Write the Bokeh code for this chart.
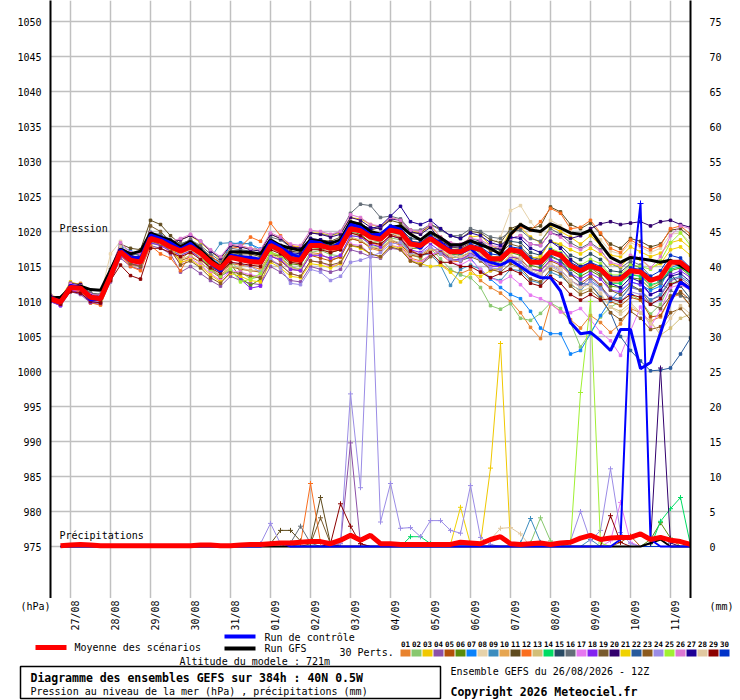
import math
from bokeh.plotting import figure
from bokeh.models import Range1d, LinearAxis, FixedTicker, Label
from bokeh.layouts import column
from bokeh.core.properties import value
from bokeh.embed import file_html
from bokeh.resources import INLINE

# ---------------- data ----------------
HOURS = list(range(0, 385, 6))          # forecast hours from 26/08 12Z
DAY_HOURS = [12 + 24 * k for k in range(16)]   # 00Z of each day
DAY_LABELS = ["27/08", "28/08", "29/08", "30/08", "31/08", "01/09", "02/09", "03/09",
              "04/09", "05/09", "06/09", "07/09", "08/09", "09/09", "10/09", "11/09"]
P_TICKS = list(range(975, 1051, 5))
R_TICKS = list(range(0, 76, 5))

MEAN_P = [1010.4, 1009.9, 1012.0, 1011.9, 1010.6, 1010.4, 1013.6, 1017.1, 1015.9, 1015.6, 1019.0, 1018.6, 1017.8,
          1017.2, 1017.8, 1016.9, 1015.6, 1014.7, 1016.3, 1016.0, 1015.7, 1015.6, 1018.0, 1017.3, 1016.1, 1015.9,
          1018.0, 1018.0, 1017.6, 1017.8, 1020.4, 1020.1, 1019.2, 1018.9, 1020.2, 1019.9, 1018.2, 1018.0, 1019.0,
          1018.0, 1017.1, 1017.1, 1017.8, 1017.4, 1016.1, 1016.1, 1017.4, 1017.1, 1015.6, 1015.6, 1017.1, 1016.6,
          1015.1, 1014.4, 1015.1, 1014.6, 1013.2, 1013.2, 1014.4, 1014.2, 1013.0, 1013.5, 1015.6, 1015.6, 1014.4]

CTRL_P = [1010.6, 1010.0, 1012.3, 1012.0, 1010.2, 1010.3, 1013.9, 1017.4, 1016.3, 1016.2, 1019.5, 1019.0, 1018.4,
          1017.5, 1018.3, 1017.0, 1015.4, 1014.3, 1016.6, 1016.4, 1016.3, 1016.0, 1018.6, 1017.8, 1016.8, 1016.3,
          1018.6, 1018.4, 1017.5, 1018.5, 1021.0, 1020.6, 1019.5, 1019.6, 1020.8, 1020.3, 1018.3, 1017.6, 1019.2,
          1018.4, 1017.3, 1016.9, 1017.6, 1016.2, 1015.6, 1015.2, 1015.9, 1015.0, 1014.0, 1013.4, 1013.4, 1011.5,
          1007.0, 1005.4, 1005.6, 1004.4, 1003.0, 1006.0, 1006.0, 1000.4, 1001.3, 1005.5, 1010.0, 1012.8, 1011.8]

GFS_P = [1010.5, 1010.6, 1012.0, 1012.2, 1011.7, 1011.6, 1014.5, 1017.5, 1016.8, 1017.2, 1019.8, 1019.2, 1018.8,
         1017.8, 1018.6, 1017.4, 1016.0, 1014.9, 1017.1, 1017.1, 1017.0, 1016.8, 1018.8, 1018.0, 1017.6, 1017.3,
         1018.8, 1018.6, 1018.3, 1018.8, 1021.4, 1021.0, 1020.0, 1019.6, 1020.6, 1020.8, 1019.6, 1018.8, 1019.9,
         1019.1, 1018.1, 1018.1, 1018.7, 1018.1, 1017.6, 1016.7, 1019.6, 1021.0, 1020.2, 1020.0, 1021.1, 1020.5,
         1019.8, 1019.6, 1020.2, 1018.2, 1016.3, 1015.6, 1016.3, 1016.1, 1015.9, 1015.6, 1015.9, 1015.1, 1014.2]

P01 = [1010.8, 1010.2, 1012.4, 1012.6, 1010.9, 1010.0, 1013.2, 1016.6, 1015.2, 1015.0, 1018.4, 1018.2, 1017.0,
       1016.0, 1017.2, 1016.4, 1014.8, 1013.6, 1015.4, 1015.2, 1015.0, 1014.6, 1017.0, 1016.2, 1015.0, 1014.5,
       1017.0, 1016.8, 1016.0, 1016.3, 1019.0, 1018.7, 1017.6, 1017.2, 1018.6, 1018.0, 1016.2, 1015.8, 1016.6,
       1015.4, 1014.4, 1014.0, 1014.6, 1013.0, 1012.0, 1011.2, 1010.0, 1008.4, 1006.3, 1004.7, 1009.7, 1008.6,
       1007.4, 1006.2, 1008.0, 1007.0, 1005.6, 1006.8, 1009.0, 1008.4, 1007.2, 1007.8, 1010.6, 1011.0, 1009.4]
P02 = [1010.1, 1009.6, 1011.8, 1011.5, 1010.0, 1009.8, 1013.0, 1016.5, 1015.5, 1014.9, 1018.3, 1018.0, 1017.4,
       1016.6, 1017.3, 1016.2, 1015.1, 1014.2, 1015.8, 1014.3, 1013.2, 1013.6, 1017.1, 1016.5, 1015.0, 1014.6,
       1017.0, 1017.3, 1016.7, 1016.5, 1019.4, 1019.3, 1018.0, 1017.8, 1019.1, 1018.8, 1016.7, 1016.2, 1017.6,
       1016.1, 1014.6, 1013.8, 1013.4, 1012.0, 1009.4, 1008.9, 1009.7, 1007.6, 1007.3, 1008.3, 1009.8, 1009.0,
       1007.0, 1003.5, 1005.6, 1007.8, 1009.2, 1010.0, 1011.0, 1010.2, 1008.2, 1009.6, 1012.6, 1013.0, 1011.8]
P03 = [1010.9, 1010.5, 1012.8, 1012.4, 1011.0, 1010.9, 1014.2, 1017.6, 1016.7, 1016.0, 1019.4, 1019.2, 1018.6,
       1018.8, 1019.4, 1018.4, 1017.2, 1016.0, 1018.0, 1017.8, 1017.6, 1017.4, 1019.6, 1019.0, 1018.0, 1017.8,
       1019.8, 1019.8, 1019.4, 1019.8, 1022.0, 1021.8, 1021.0, 1020.6, 1022.0, 1021.6, 1020.2, 1019.8, 1020.8,
       1019.2, 1018.3, 1018.0, 1019.2, 1019.4, 1018.0, 1017.4, 1020.2, 1020.6, 1019.2, 1018.4, 1020.7, 1020.0,
       1019.2, 1018.2, 1019.4, 1018.0, 1016.6, 1016.4, 1017.8, 1017.1, 1016.4, 1016.9, 1018.4, 1018.8, 1017.6]
P04 = [1010.0, 1009.4, 1011.4, 1011.0, 1009.8, 1009.6, 1012.8, 1016.2, 1015.0, 1014.6, 1018.0, 1017.6, 1016.8,
       1014.2, 1015.0, 1014.0, 1013.0, 1012.2, 1013.6, 1013.0, 1012.6, 1012.4, 1015.0, 1014.2, 1013.0, 1012.8,
       1015.0, 1014.6, 1014.2, 1014.6, 1017.4, 1017.0, 1016.4, 1016.2, 1017.6, 1017.4, 1015.8, 1015.4, 1016.6,
       1017.2, 1016.0, 1015.8, 1016.8, 1016.4, 1014.4, 1014.6, 1016.0, 1015.6, 1014.2, 1013.8, 1015.4, 1014.6,
       1013.0, 1012.2, 1013.4, 1012.2, 1010.6, 1010.4, 1012.0, 1011.6, 1010.2, 1010.8, 1013.0, 1013.4, 1012.2]
P05 = [1010.4, 1010.0, 1011.6, 1011.4, 1010.4, 1010.2, 1013.4, 1016.8, 1015.4, 1015.2, 1018.6, 1018.4, 1017.4,
       1015.8, 1016.4, 1015.6, 1014.4, 1013.4, 1015.0, 1014.6, 1014.4, 1014.2, 1016.6, 1015.8, 1014.6, 1014.4,
       1016.6, 1016.2, 1015.8, 1016.4, 1019.0, 1018.6, 1017.8, 1017.4, 1018.8, 1018.2, 1016.6, 1016.4, 1017.4,
       1017.4, 1016.2, 1016.4, 1017.0, 1016.6, 1015.2, 1015.0, 1016.4, 1016.0, 1014.6, 1014.4, 1015.8, 1015.2,
       1013.8, 1012.6, 1013.6, 1012.4, 1010.0, 1009.4, 1010.6, 1010.2, 1007.8, 1008.0, 1010.6, 1011.4, 1010.2]
P06 = [1010.2, 1009.8, 1011.8, 1011.6, 1010.3, 1010.1, 1013.6, 1017.0, 1015.6, 1015.4, 1018.8, 1018.3, 1017.6,
       1016.9, 1017.5, 1016.4, 1014.9, 1014.3, 1015.4, 1013.4, 1012.3, 1013.2, 1016.6, 1016.6, 1015.4, 1015.2,
       1017.6, 1017.6, 1017.0, 1017.4, 1020.0, 1019.6, 1018.4, 1018.6, 1019.8, 1019.6, 1017.6, 1017.6, 1018.8,
       1017.8, 1016.8, 1016.6, 1017.6, 1017.0, 1015.8, 1015.6, 1017.0, 1016.6, 1015.2, 1014.8, 1016.4, 1015.8,
       1014.6, 1013.6, 1014.4, 1013.6, 1012.2, 1012.0, 1013.4, 1013.2, 1011.8, 1012.6, 1014.4, 1014.8, 1013.6]
P07 = [1010.7, 1010.2, 1012.3, 1012.0, 1010.8, 1010.6, 1014.0, 1018.0, 1017.2, 1016.4, 1019.6, 1019.5, 1018.4,
       1017.8, 1018.6, 1017.6, 1016.4, 1015.2, 1018.2, 1018.4, 1018.2, 1017.5, 1018.2, 1017.6, 1016.4, 1016.3,
       1018.4, 1018.4, 1018.0, 1018.3, 1020.8, 1020.4, 1019.6, 1019.2, 1020.6, 1020.2, 1018.4, 1018.2, 1019.4,
       1018.2, 1016.8, 1016.0, 1016.2, 1014.4, 1013.2, 1012.0, 1011.0, 1010.4, 1008.6, 1006.2, 1005.4, 1005.4,
       1002.5, 1003.0, 1005.4, 1008.0, 1010.2, 1011.6, 1012.8, 1012.4, 1011.6, 1012.2, 1014.8, 1015.4, 1014.6]
P08 = [1010.6, 1010.4, 1012.6, 1012.2, 1010.2, 1010.8, 1016.8, 1018.6, 1016.4, 1016.2, 1019.2, 1018.8, 1018.2,
       1017.4, 1018.0, 1017.0, 1015.6, 1014.8, 1016.6, 1016.6, 1016.6, 1016.2, 1018.4, 1017.6, 1016.4, 1016.2,
       1018.4, 1018.4, 1018.0, 1018.4, 1020.8, 1020.4, 1019.4, 1019.2, 1020.4, 1020.4, 1018.6, 1018.4, 1019.4,
       1018.6, 1017.6, 1017.6, 1018.4, 1018.6, 1018.0, 1019.2, 1023.0, 1023.7, 1021.4, 1019.6, 1021.6, 1020.8,
       1019.8, 1019.4, 1020.0, 1018.8, 1017.2, 1016.8, 1018.4, 1017.8, 1017.0, 1017.6, 1019.6, 1019.8, 1018.4]
P09 = [1010.6, 1010.0, 1011.9, 1011.7, 1010.5, 1010.6, 1014.0, 1017.8, 1016.6, 1016.8, 1019.9, 1019.4, 1018.3,
       1017.6, 1018.6, 1017.4, 1016.2, 1018.3, 1018.4, 1018.2, 1018.3, 1017.0, 1018.6, 1017.8, 1016.9, 1016.6,
       1018.4, 1018.2, 1017.8, 1018.2, 1020.4, 1020.2, 1019.4, 1018.8, 1019.8, 1019.0, 1016.8, 1016.6, 1016.8,
       1015.2, 1012.3, 1014.6, 1015.2, 1014.6, 1013.4, 1013.0, 1014.6, 1014.4, 1013.0, 1012.6, 1014.2, 1013.6,
       1012.4, 1011.6, 1013.0, 1012.0, 1010.4, 1010.4, 1012.2, 1011.6, 1010.2, 1011.0, 1013.2, 1013.6, 1012.6]
P10 = [1010.3, 1009.8, 1012.0, 1012.0, 1010.8, 1010.4, 1013.8, 1017.2, 1016.2, 1015.8, 1019.0, 1018.6, 1018.0,
       1017.4, 1018.0, 1017.0, 1015.6, 1014.8, 1016.4, 1016.0, 1015.8, 1015.8, 1018.0, 1017.4, 1016.4, 1016.0,
       1018.2, 1018.0, 1017.6, 1018.0, 1020.6, 1020.2, 1019.2, 1019.0, 1020.4, 1020.0, 1018.4, 1018.0, 1019.0,
       1018.0, 1017.0, 1016.8, 1017.6, 1017.2, 1016.0, 1016.0, 1017.6, 1017.4, 1015.8, 1015.4, 1017.2, 1016.8,
       1015.6, 1014.8, 1015.6, 1014.6, 1012.8, 1012.6, 1014.0, 1013.6, 1012.2, 1012.8, 1015.0, 1015.6, 1014.8]
P11 = [1010.4, 1010.2, 1012.2, 1012.4, 1011.2, 1011.0, 1014.6, 1018.2, 1017.6, 1017.4, 1021.6, 1021.0, 1019.4,
       1018.2, 1018.8, 1017.8, 1016.4, 1015.6, 1017.0, 1016.8, 1016.8, 1016.4, 1018.6, 1018.0, 1017.2, 1017.0,
       1019.0, 1018.8, 1018.6, 1019.2, 1021.4, 1021.2, 1020.2, 1020.6, 1021.6, 1021.2, 1019.8, 1019.8, 1021.0,
       1020.4, 1019.4, 1019.0, 1020.0, 1019.8, 1018.8, 1018.4, 1020.4, 1021.0, 1020.4, 1020.8, 1023.5, 1022.8,
       1021.0, 1020.4, 1021.2, 1019.6, 1018.2, 1017.6, 1019.0, 1018.6, 1017.8, 1018.2, 1020.2, 1020.4, 1019.2]
P12 = [1010.0, 1009.5, 1011.5, 1011.4, 1009.8, 1009.5, 1013.0, 1016.6, 1015.0, 1014.4, 1018.0, 1016.8, 1016.2,
       1014.4, 1016.8, 1016.8, 1016.6, 1015.4, 1017.6, 1017.8, 1019.2, 1018.6, 1021.2, 1019.4, 1018.0, 1017.6,
       1018.6, 1018.0, 1017.2, 1017.4, 1019.8, 1019.4, 1018.4, 1018.0, 1019.6, 1019.2, 1017.4, 1016.6, 1017.6,
       1016.8, 1015.6, 1015.8, 1016.8, 1016.8, 1016.0, 1016.6, 1019.4, 1020.6, 1020.2, 1021.4, 1023.3, 1022.6,
       1020.4, 1020.6, 1021.6, 1019.8, 1017.6, 1017.0, 1018.8, 1018.0, 1017.4, 1018.0, 1020.4, 1020.8, 1019.6]
P13 = [1010.6, 1010.1, 1012.2, 1012.0, 1010.6, 1010.3, 1013.6, 1017.0, 1015.8, 1015.4, 1018.8, 1018.4, 1017.6,
       1016.0, 1016.6, 1015.6, 1014.4, 1013.6, 1015.0, 1014.8, 1014.4, 1014.4, 1016.8, 1016.0, 1014.8, 1014.6,
       1016.8, 1016.6, 1016.2, 1016.6, 1019.2, 1018.8, 1017.8, 1017.6, 1018.8, 1018.4, 1016.8, 1016.6, 1017.4,
       1017.4, 1016.4, 1016.2, 1017.0, 1016.4, 1015.2, 1015.0, 1016.2, 1015.8, 1014.2, 1013.8, 1015.0, 1014.2,
       1012.6, 1011.4, 1012.0, 1011.0, 1009.2, 1008.6, 1009.8, 1008.4, 1007.2, 1005.2, 1006.2, 1007.6, 1008.2]
P14 = [1010.2, 1009.7, 1011.8, 1011.8, 1010.5, 1010.3, 1013.4, 1016.9, 1015.7, 1015.3, 1018.6, 1018.4, 1017.6,
       1016.8, 1017.6, 1016.8, 1015.5, 1014.5, 1016.2, 1016.0, 1015.6, 1015.4, 1017.8, 1017.2, 1016.0, 1015.8,
       1017.8, 1017.8, 1017.4, 1017.6, 1020.0, 1019.8, 1019.0, 1018.6, 1019.8, 1019.6, 1018.0, 1017.8, 1018.8,
       1017.8, 1016.8, 1016.8, 1017.6, 1017.2, 1016.2, 1016.2, 1017.4, 1017.2, 1015.8, 1015.4, 1017.0, 1016.4,
       1014.8, 1014.0, 1014.8, 1014.2, 1012.6, 1012.6, 1013.8, 1013.6, 1012.4, 1012.8, 1014.6, 1015.0, 1013.8]
P15 = [1010.5, 1010.0, 1012.1, 1012.1, 1010.7, 1010.5, 1013.8, 1017.4, 1016.2, 1016.0, 1019.4, 1019.0, 1018.2,
       1017.6, 1018.2, 1017.4, 1016.0, 1015.0, 1016.8, 1016.6, 1016.2, 1016.0, 1018.4, 1017.8, 1016.6, 1016.4,
       1018.6, 1018.4, 1018.0, 1018.4, 1020.8, 1020.6, 1019.6, 1019.4, 1020.8, 1020.4, 1019.0, 1018.8, 1019.8,
       1019.0, 1018.0, 1018.0, 1019.0, 1018.6, 1017.6, 1017.4, 1018.6, 1018.4, 1017.0, 1016.6, 1018.6, 1018.0,
       1016.6, 1016.0, 1016.8, 1016.0, 1014.4, 1014.2, 1015.4, 1014.8, 1013.2, 1013.0, 1014.0, 1012.2, 1010.4]
P16 = [1010.8, 1010.4, 1012.4, 1012.3, 1011.2, 1011.0, 1014.2, 1017.8, 1016.8, 1016.6, 1019.8, 1019.6, 1018.8,
       1018.2, 1018.8, 1018.0, 1016.8, 1015.8, 1017.6, 1017.4, 1017.2, 1016.8, 1019.2, 1018.8, 1017.8, 1017.6,
       1019.8, 1019.6, 1019.4, 1020.0, 1022.6, 1023.9, 1023.7, 1022.0, 1022.2, 1021.8, 1020.2, 1020.2, 1021.0,
       1020.2, 1019.4, 1019.4, 1020.4, 1020.0, 1019.2, 1019.0, 1020.0, 1020.2, 1019.0, 1018.6, 1020.4, 1019.6,
       1018.4, 1017.6, 1018.4, 1017.4, 1015.4, 1014.8, 1015.8, 1015.2, 1013.6, 1012.6, 1011.6, 1010.8, 1010.4]
P17 = [1010.2, 1009.6, 1011.6, 1011.6, 1010.2, 1010.0, 1013.2, 1016.6, 1015.6, 1015.2, 1018.6, 1018.0, 1017.2,
       1015.4, 1016.2, 1015.2, 1014.0, 1013.0, 1014.4, 1014.2, 1013.8, 1013.6, 1016.0, 1015.2, 1014.0, 1013.6,
       1015.8, 1015.6, 1015.0, 1015.4, 1018.2, 1018.0, 1016.8, 1016.4, 1018.0, 1017.8, 1016.0, 1015.6, 1016.8,
       1017.0, 1015.6, 1015.2, 1016.0, 1014.6, 1013.4, 1012.8, 1013.6, 1012.4, 1010.9, 1010.4, 1009.7, 1008.5,
       1008.4, 1009.0, 1007.4, 1005.6, 1004.4, 1002.3, 1005.8, 1009.2, 1006.4, 1008.8, 1012.0, 1012.4, 1011.6]
P18 = [1010.0, 1009.4, 1011.6, 1011.2, 1009.9, 1009.8, 1013.2, 1016.6, 1015.4, 1015.0, 1018.4, 1018.0, 1017.2,
       1016.6, 1017.2, 1016.2, 1014.6, 1013.6, 1014.4, 1013.2, 1011.9, 1012.2, 1016.4, 1016.0, 1014.6, 1014.4,
       1016.6, 1016.6, 1016.2, 1016.6, 1019.4, 1019.2, 1018.2, 1017.8, 1019.4, 1019.0, 1017.4, 1017.0, 1018.2,
       1017.2, 1016.0, 1016.0, 1016.8, 1016.2, 1015.0, 1015.0, 1016.4, 1016.2, 1014.6, 1014.4, 1016.0, 1015.4,
       1014.0, 1013.2, 1014.0, 1013.2, 1011.6, 1011.4, 1012.8, 1012.4, 1011.0, 1011.6, 1013.8, 1014.4, 1013.4]
P19 = [1010.6, 1010.3, 1012.0, 1012.2, 1010.9, 1010.6, 1014.0, 1017.4, 1016.0, 1015.8, 1020.8, 1020.0, 1018.6,
       1017.6, 1018.2, 1017.2, 1015.8, 1014.8, 1016.4, 1016.2, 1016.0, 1015.8, 1018.2, 1017.6, 1016.4, 1016.2,
       1018.4, 1018.2, 1017.8, 1018.2, 1020.6, 1020.2, 1019.2, 1019.2, 1020.4, 1020.2, 1018.6, 1018.4, 1019.6,
       1018.8, 1017.8, 1017.6, 1018.4, 1018.2, 1017.2, 1017.0, 1018.2, 1017.8, 1016.4, 1016.0, 1017.4, 1016.8,
       1015.2, 1014.4, 1014.8, 1013.8, 1011.6, 1011.0, 1012.4, 1011.6, 1009.6, 1009.0, 1010.8, 1011.2, 1009.4]
P20 = [1010.8, 1010.3, 1012.6, 1012.4, 1011.0, 1010.8, 1014.0, 1017.6, 1016.4, 1016.4, 1019.8, 1019.2, 1018.4,
       1018.8, 1019.4, 1018.6, 1017.2, 1016.2, 1018.0, 1017.8, 1017.4, 1017.2, 1019.6, 1019.0, 1017.8, 1017.6,
       1019.8, 1019.6, 1019.2, 1019.6, 1022.0, 1021.6, 1020.6, 1020.4, 1021.8, 1021.6, 1020.0, 1019.6, 1020.6,
       1018.6, 1017.8, 1017.8, 1018.6, 1018.4, 1017.6, 1017.6, 1019.0, 1019.4, 1018.2, 1018.0, 1019.8, 1019.4,
       1019.0, 1019.4, 1020.4, 1021.1, 1021.4, 1021.0, 1021.2, 1021.4, 1020.8, 1021.4, 1021.6, 1021.0, 1020.6]
P21 = [1010.5, 1010.0, 1012.3, 1012.0, 1010.4, 1010.2, 1013.6, 1017.0, 1015.8, 1015.6, 1019.2, 1018.6, 1017.8,
       1015.6, 1016.0, 1015.0, 1013.8, 1012.8, 1014.0, 1013.6, 1013.0, 1012.8, 1015.6, 1014.8, 1013.6, 1013.4,
       1015.4, 1015.2, 1014.8, 1015.4, 1018.0, 1017.6, 1016.8, 1016.4, 1018.0, 1017.6, 1015.8, 1015.4, 1015.0,
       1015.2, 1014.2, 1012.8, 1014.0, 1013.6, 1014.4, 1014.8, 1016.8, 1017.4, 1016.2, 1016.4, 1018.6, 1018.2,
       1017.4, 1016.8, 1017.6, 1016.8, 1015.4, 1015.0, 1016.4, 1016.0, 1014.8, 1015.4, 1017.4, 1017.8, 1016.6]
P22 = [1010.3, 1009.8, 1011.9, 1011.8, 1010.6, 1010.4, 1013.6, 1017.2, 1016.0, 1015.6, 1019.0, 1018.6, 1017.8,
       1017.2, 1017.8, 1016.8, 1015.6, 1014.6, 1016.2, 1016.0, 1015.6, 1015.6, 1018.0, 1017.4, 1016.2, 1016.0,
       1018.2, 1018.0, 1017.6, 1018.0, 1020.4, 1020.2, 1019.4, 1019.0, 1020.4, 1020.0, 1018.4, 1018.2, 1019.2,
       1018.2, 1017.2, 1017.2, 1018.0, 1017.6, 1016.4, 1016.2, 1017.4, 1017.0, 1015.6, 1015.2, 1016.6, 1015.8,
       1014.0, 1012.6, 1012.4, 1010.6, 1008.4, 1005.0, 1003.0, 1001.5, 1000.1, 1000.2, 1000.5, 1002.5, 1004.8]
P23 = [1010.2, 1009.8, 1012.2, 1011.8, 1010.4, 1010.0, 1013.2, 1016.8, 1015.4, 1015.0, 1018.6, 1018.2, 1017.4,
       1015.2, 1015.8, 1014.8, 1013.4, 1012.6, 1014.2, 1014.0, 1013.6, 1013.4, 1015.8, 1015.2, 1014.0, 1013.6,
       1015.8, 1015.6, 1015.2, 1015.6, 1018.0, 1017.8, 1016.8, 1016.4, 1017.8, 1017.4, 1015.8, 1015.2, 1016.4,
       1017.0, 1016.0, 1015.8, 1016.4, 1015.8, 1014.6, 1014.2, 1015.4, 1014.8, 1013.2, 1012.8, 1014.6, 1014.0,
       1012.2, 1011.0, 1011.6, 1010.4, 1008.4, 1007.4, 1008.6, 1007.6, 1006.0, 1006.4, 1008.4, 1009.0, 1007.4]
P24 = [1010.6, 1010.0, 1012.0, 1011.8, 1010.6, 1010.4, 1013.8, 1017.2, 1016.2, 1016.0, 1019.2, 1018.8, 1018.0,
       1017.4, 1018.0, 1017.0, 1015.8, 1014.6, 1015.6, 1015.4, 1015.0, 1014.2, 1016.2, 1014.8, 1012.6, 1012.4,
       1014.6, 1014.2, 1013.0, 1013.6, 1015.6, 1015.9, 1016.4, 1017.0, 1018.2, 1018.4, 1017.0, 1016.8, 1017.8,
       1016.8, 1016.0, 1015.8, 1016.6, 1016.0, 1014.8, 1014.6, 1016.0, 1015.6, 1014.2, 1013.8, 1015.2, 1014.4,
       1013.0, 1012.0, 1012.8, 1011.8, 1010.4, 1010.0, 1011.4, 1011.0, 1009.6, 1010.2, 1012.4, 1012.8, 1011.6]
P25 = [1010.4, 1009.9, 1012.1, 1011.8, 1010.4, 1010.2, 1013.6, 1017.0, 1015.8, 1015.6, 1019.0, 1018.6, 1017.8,
       1017.0, 1017.6, 1016.4, 1014.6, 1013.6, 1014.6, 1012.8, 1013.2, 1014.0, 1017.0, 1016.6, 1015.8, 1015.6,
       1017.8, 1017.8, 1017.4, 1017.8, 1020.2, 1020.0, 1019.0, 1018.8, 1020.2, 1020.0, 1018.2, 1018.0, 1019.0,
       1018.0, 1017.2, 1017.0, 1017.8, 1017.6, 1016.4, 1016.4, 1017.6, 1017.4, 1016.0, 1015.8, 1017.6, 1017.0,
       1016.0, 1015.2, 1016.0, 1015.4, 1013.8, 1013.8, 1015.2, 1015.0, 1014.6, 1015.8, 1018.4, 1019.8, 1018.0]
P26 = [1010.9, 1010.4, 1012.5, 1012.2, 1011.0, 1010.9, 1014.4, 1018.4, 1017.0, 1016.8, 1019.8, 1019.2, 1018.6,
       1019.0, 1019.6, 1018.6, 1017.4, 1016.4, 1018.2, 1018.0, 1017.6, 1017.4, 1019.8, 1019.2, 1018.2, 1018.0,
       1020.2, 1020.0, 1019.6, 1020.0, 1022.4, 1022.0, 1021.0, 1020.8, 1022.0, 1021.6, 1020.2, 1020.0, 1021.0,
       1019.2, 1018.4, 1018.2, 1019.0, 1018.8, 1018.0, 1017.8, 1019.0, 1019.4, 1018.2, 1018.0, 1019.8, 1019.2,
       1018.0, 1017.4, 1018.2, 1017.2, 1015.6, 1015.2, 1016.6, 1016.2, 1014.8, 1016.4, 1019.4, 1020.8, 1020.4]
P27 = [1010.7, 1010.2, 1012.2, 1012.0, 1010.8, 1010.6, 1014.2, 1017.6, 1016.6, 1016.2, 1019.6, 1019.2, 1018.4,
       1017.8, 1018.4, 1017.4, 1016.0, 1014.8, 1016.4, 1016.2, 1016.2, 1016.0, 1018.6, 1018.0, 1017.0, 1016.8,
       1019.0, 1018.8, 1018.4, 1018.8, 1021.2, 1021.0, 1020.4, 1020.8, 1022.2, 1023.6, 1021.4, 1021.0, 1021.6,
       1020.4, 1019.4, 1019.0, 1019.8, 1019.4, 1018.4, 1018.0, 1019.2, 1019.0, 1017.6, 1017.0, 1018.6, 1017.6,
       1016.0, 1015.0, 1015.6, 1014.6, 1012.6, 1012.0, 1013.4, 1012.8, 1011.0, 1011.6, 1013.6, 1014.0, 1012.8]
P28 = [1010.3, 1009.8, 1012.0, 1011.7, 1010.5, 1010.3, 1014.2, 1017.8, 1016.2, 1015.8, 1018.8, 1018.4, 1017.6,
       1016.8, 1017.4, 1016.4, 1015.2, 1014.4, 1016.0, 1015.8, 1015.4, 1015.2, 1017.6, 1016.8, 1015.6, 1015.4,
       1017.6, 1017.4, 1017.2, 1017.6, 1020.0, 1019.8, 1018.8, 1018.6, 1019.8, 1019.4, 1017.8, 1017.6, 1018.6,
       1017.6, 1016.6, 1016.4, 1017.2, 1016.8, 1015.6, 1015.4, 1016.6, 1016.2, 1014.6, 1014.0, 1015.4, 1014.6,
       1013.0, 1012.0, 1012.4, 1011.2, 1009.2, 1008.2, 1009.4, 1008.4, 1006.8, 1005.8, 1007.6, 1009.4, 1008.2]
P29 = [1010.1, 1009.6, 1011.4, 1011.2, 1010.0, 1009.8, 1013.0, 1015.2, 1013.7, 1013.2, 1017.6, 1017.6, 1017.0,
       1016.4, 1017.0, 1016.0, 1014.8, 1014.0, 1015.6, 1015.4, 1015.2, 1015.0, 1017.4, 1016.8, 1015.6, 1015.4,
       1017.4, 1017.4, 1017.0, 1017.4, 1019.8, 1019.4, 1018.4, 1018.2, 1019.4, 1019.0, 1017.2, 1016.6, 1017.0,
       1015.6, 1015.6, 1015.0, 1015.0, 1014.2, 1013.4, 1014.0, 1014.6, 1014.0, 1012.6, 1012.2, 1013.6, 1012.6,
       1011.0, 1010.2, 1011.0, 1010.2, 1010.4, 1010.0, 1011.0, 1010.6, 1009.6, 1010.4, 1012.4, 1013.0, 1012.0]
P30 = [1010.4, 1009.9, 1012.0, 1012.0, 1010.7, 1010.5, 1013.6, 1017.2, 1016.0, 1015.8, 1019.2, 1018.8, 1018.0,
       1017.4, 1018.0, 1017.2, 1015.8, 1014.8, 1016.4, 1016.2, 1016.0, 1016.0, 1018.2, 1017.6, 1016.4, 1016.2,
       1018.4, 1018.2, 1017.8, 1018.2, 1020.6, 1020.4, 1019.4, 1019.2, 1020.6, 1020.2, 1018.6, 1018.4, 1019.4,
       1018.4, 1017.4, 1017.4, 1018.2, 1017.8, 1016.8, 1016.6, 1017.8, 1017.6, 1016.2, 1015.8, 1017.4, 1016.8,
       1015.6, 1014.8, 1015.6, 1015.0, 1013.6, 1013.6, 1014.8, 1014.6, 1013.6, 1014.4, 1016.6, 1016.2, 1014.8]

PERT_P = [P01, P02, P03, P04, P05, P06, P07, P08, P09, P10, P11, P12, P13, P14, P15,
          P16, P17, P18, P19, P20, P21, P22, P23, P24, P25, P26, P27, P28, P29, P30]

PERT_COLORS = ["#e8822e", "#88c86e", "#f0c800", "#8c50a8", "#b45008", "#5a8c0a", "#0a82fa", "#e6d2aa",
               "#3c8cbe", "#e6a550", "#5f4b1e", "#fa6e1e", "#d2be78", "#00dc64", "#284a64", "#646e78",
               "#e678f0", "#8222f0", "#785a2d", "#32006e", "#f0d200", "#285a9b", "#8c5a1e", "#9b8ce6",
               "#a0f032", "#dc78d2", "#1e0096", "#e1c8a0", "#8c0000", "#0032c8"]

# precipitation (mm per 6 h step, step index 1..64); members: non-zero steps only
MEAN_R = [0.1, 0.2, 0.3, 0.2, 0.1, 0.1, 0.1, 0.1, 0.1, 0.1, 0.1, 0.1, 0.1, 0.1, 0.2, 0.2, 0.1, 0.1, 0.2,
          0.3, 0.3, 0.4, 0.5, 0.5, 0.6, 0.7, 0.7, 0.4, 0.9,
          1.6, 0.9, 1.6, 0.4, 0.4, 0.3, 0.3, 0.3, 0.3, 0.3,
          0.3, 0.6, 0.5, 0.4, 1.0, 1.4, 0.4, 0.3, 0.4, 0.5,
          0.3, 0.5, 0.6, 1.2, 1.6, 1.0, 1.2, 1.3, 1.3, 1.8,
          1.0, 1.3, 0.9, 0.7, 0.3]
CTRL_R = {22: 0.5, 23: 0.6, 57: 1.0, 58: 36.0, 59: 49.0, 60: 1.0}
GFS_R = {60: 0.5, 61: 1.0}
R02 = {48: 0.5, 49: 4.1, 50: 0.8}
R03 = {43: 0.4, 44: 11.2, 45: 29.0, 46: 0.4}
R04 = {29: 0.4, 30: 14.8, 31: 0.4}
R05 = {57: 0.6, 58: 1.5}
R06 = {60: 1.0, 61: 3.4, 62: 1.2}
R09 = {47: 0.5, 48: 4.0, 49: 0.6, 54: 1.0}
R11 = {22: 0.4, 23: 2.3, 24: 2.3, 25: 0.8, 26: 0.6, 27: 7.0, 28: 0.4}
R12 = {25: 0.4, 26: 9.0, 27: 0.6}
R14 = {36: 1.4, 37: 1.4, 38: 0.4, 61: 3.6, 62: 5.4, 63: 7.0, 64: 0.2}
R16 = {24: 0.5, 25: 2.9, 26: 0.5}
R17 = {56: 0.8, 57: 6.3, 58: 0.6}
R19 = {26: 0.4, 27: 4.1, 28: 0.4}
R20 = {60: 0.4, 61: 25.5, 62: 0.5}
R21 = {40: 0.3, 41: 5.6, 42: 0.3}
R24 = {21: 0.4, 22: 3.3, 23: 0.4, 29: 0.5, 30: 21.8, 31: 8.4, 32: 42.7, 33: 3.5, 34: 9.0, 35: 2.6,
       36: 2.7, 37: 1.4, 38: 3.7, 39: 3.7, 40: 2.3, 41: 1.9, 42: 8.7, 43: 1.3, 44: 0.3,
       52: 0.8, 53: 5.0, 54: 0.8, 55: 2.3, 56: 11.1, 57: 2.0, 58: 0.4}
R25 = {52: 0.5, 53: 22.0, 54: 35.0, 55: 0.5}
R28 = {44: 1.0, 45: 2.6, 46: 2.7, 47: 1.8}
R29 = {28: 0.4, 29: 6.1, 30: 2.9, 31: 0.4, 56: 4.4, 57: 0.6}
PERT_R = {2: R02, 3: R03, 4: R04, 5: R05, 6: R06, 9: R09, 11: R11, 12: R12, 14: R14, 16: R16,
          17: R17, 19: R19, 20: R20, 21: R21, 24: R24, 25: R25, 28: R28, 29: R29}

for s in PERT_P + [MEAN_P, CTRL_P, GFS_P]:
    assert len(s) == len(HOURS), len(s)
assert len(MEAN_R) == len(HOURS) - 1

# ---------------- helpers ----------------
FONT = value("DejaVu Sans Mono")
RH = HOURS[1:]
W = 740
TOP_H = 598          # height of the diagram frame (px)
BOT_H = 102          # caption strip below it
PLOT_L, PLOT_R = 50, 50
PX_PER_H = (W - PLOT_L - PLOT_R) / 384.0


def expand(d):
    return [d.get(i, 0.0) for i in range(1, len(HOURS))]


def hx(px):
    """page x pixel -> forecast hour (caption strip shares the time scale)"""
    return (px - PLOT_L) / PX_PER_H


def yb(py):
    """page y pixel -> height above the page bottom, inside the caption strip"""
    return 700 - py


# ---------------- main figure ----------------
P_HI = 1053.0
P_LO = P_HI - TOP_H / 7.0
p = figure(width=W, height=TOP_H, x_range=Range1d(0, 384), y_range=Range1d(P_LO, P_HI),
           output_backend="svg", toolbar_location=None, x_axis_location=None,
           min_border_left=PLOT_L, min_border_right=PLOT_R, min_border_top=0, min_border_bottom=0)
p.frame_align = False
p.outline_line_color = None
p.extra_y_ranges = {"mm": Range1d(P_LO - 975, P_HI - 975)}

p.xgrid.ticker = FixedTicker(ticks=DAY_HOURS)
p.ygrid.ticker = FixedTicker(ticks=P_TICKS)
p.grid.grid_line_color = "#c0c0c0"
p.grid.grid_line_width = 1.5

ya = p.yaxis[0]
ya.ticker = FixedTicker(ticks=P_TICKS)
ya.major_tick_line_color = None
ya.minor_tick_line_color = None
ya.axis_line_width = 2
ya.axis_line_color = "black"
ya.major_label_standoff = 3
ya.major_label_text_font = "DejaVu Sans Mono"
ya.major_label_text_font_size = "10px"
ya.major_label_text_color = "black"

ra = LinearAxis(y_range_name="mm", ticker=FixedTicker(ticks=R_TICKS))
ra.major_tick_line_color = None
ra.minor_tick_line_color = None
ra.axis_line_width = 2
ra.axis_line_color = "black"
ra.major_label_standoff = 13
ra.major_label_text_font = "DejaVu Sans Mono"
ra.major_label_text_font_size = "10px"
ra.major_label_text_color = "black"
p.add_layout(ra, "right")

# perturbations
for vals, col in zip(PERT_P, PERT_COLORS):
    p.line(HOURS, vals, line_color=col, line_width=1)
    p.scatter(HOURS, vals, marker="square", size=2.5, line_color=col, fill_color=col)
for k, col in enumerate(PERT_COLORS):
    rv = expand(PERT_R.get(k + 1, {}))
    p.line(RH, rv, line_color=col, line_width=1, y_range_name="mm")
    nz = [(h, v) for h, v in zip(RH, rv) if v > 0]
    if nz:
        p.scatter([a for a, _ in nz], [b for _, b in nz], marker="cross", size=5,
                  line_color=col, y_range_name="mm")

# GFS, control, mean
p.line(HOURS, GFS_P, line_color="black", line_width=3)
p.line(RH, expand(GFS_R), line_color="black", line_width=2, y_range_name="mm")
p.line(HOURS, CTRL_P, line_color="#0000ff", line_width=3)
ctrl_r = expand(CTRL_R)
p.line(RH, ctrl_r, line_color="#0000ff", line_width=2, y_range_name="mm")
p.scatter([h for h, v in zip(RH, ctrl_r) if v > 5], [v for v in ctrl_r if v > 5],
          marker="cross", size=6, line_color="#0000ff", y_range_name="mm")
p.line(HOURS, MEAN_P, line_color="#ff0000", line_width=5)
p.line(RH, MEAN_R, line_color="#ff0000", line_width=5, y_range_name="mm")

for txt, yv in [("Pression", 1020.4), ("Précipitations", 976.6)]:
    p.add_layout(Label(x=hx(59), y=yv, text=txt, text_font="DejaVu Sans Mono", text_font_size="10px",
                       text_baseline="middle", text_align="left", text_color="black"))

# ---------------- caption strip (dates, legend, titles) ----------------
q = figure(width=W, height=BOT_H, x_range=Range1d(hx(0), hx(W)), y_range=Range1d(0, BOT_H),
           output_backend="svg", toolbar_location=None, min_border=0,
           min_border_left=0, min_border_right=0, min_border_top=0, min_border_bottom=0,
           x_axis_type=None, y_axis_type=None)
q.frame_align = False
q.grid.visible = False
q.outline_line_color = None

# date labels under the day grid lines
q.text(x=[h + 3 for h in DAY_HOURS], y=[yb(600)] * len(DAY_HOURS), text=DAY_LABELS, angle=math.pi / 2,
       text_font=FONT, text_font_size="10px", text_baseline="middle", text_align="right",
       text_color="black")
q.text(x=[hx(20), hx(709)], y=[yb(606)] * 2, text=["(hPa)", "(mm)"], text_font=FONT,
       text_font_size="10px", text_baseline="middle", text_align="left", text_color="black")

q.segment(x0=[hx(35), hx(224), hx(224)], y0=[yb(647), yb(636), yb(648)],
          x1=[hx(66), hx(255), hx(255)], y1=[yb(647), yb(636), yb(648)],
          line_color=["#ff0000", "#0000ff", "black"], line_width=[5, 4, 4])
q.text(x=[hx(74), hx(264), hx(264), hx(179), hx(339), hx(450)],
       y=[yb(647), yb(637), yb(648), yb(661), yb(652), yb(671)],
       text=["Moyenne des scénarios", "Run de contrôle", "Run GFS", "Altitude du modele : 721m",
             "30 Perts.", "Ensemble GEFS du 26/08/2026 - 12Z"],
       text_font=FONT, text_font_size="10px", text_baseline="middle", text_align="left",
       text_color="black")
cx = [405 + 11 * k for k in range(30)]
q.text(x=[hx(c) for c in cx], y=[yb(643)] * 30, text=["%02d" % (k + 1) for k in range(30)],
       text_font=FONT, text_font_size="7.5px", text_font_style="bold", text_baseline="middle",
       text_align="center", text_color="black")
q.quad(left=[hx(c - 5) for c in cx], right=[hx(c + 5) for c in cx], top=[yb(649)] * 30,
       bottom=[yb(656)] * 30, fill_color=PERT_COLORS, line_color=None)
q.quad(left=[hx(20)], right=[hx(440)], top=[yb(666)], bottom=[yb(698)], fill_alpha=0,
       line_color="black", line_width=1.5)
q.text(x=[hx(30), hx(450)], y=[yb(677), yb(691)],
       text=["Diagramme des ensembles GEFS sur 384h : 40N 0.5W", "Copyright 2026 Meteociel.fr"],
       text_font=FONT, text_font_size="11.5px", text_font_style="bold", text_baseline="middle",
       text_align="left", text_color="black")
q.text(x=[hx(30)], y=[yb(691)], text=["Pression au niveau de la mer (hPa) , précipitations (mm)"],
       text_font=FONT, text_font_size="10px", text_baseline="middle", text_align="left",
       text_color="black")

layout = column(p, q, spacing=0)
open("out.html", "w").write(file_html(layout, INLINE))
